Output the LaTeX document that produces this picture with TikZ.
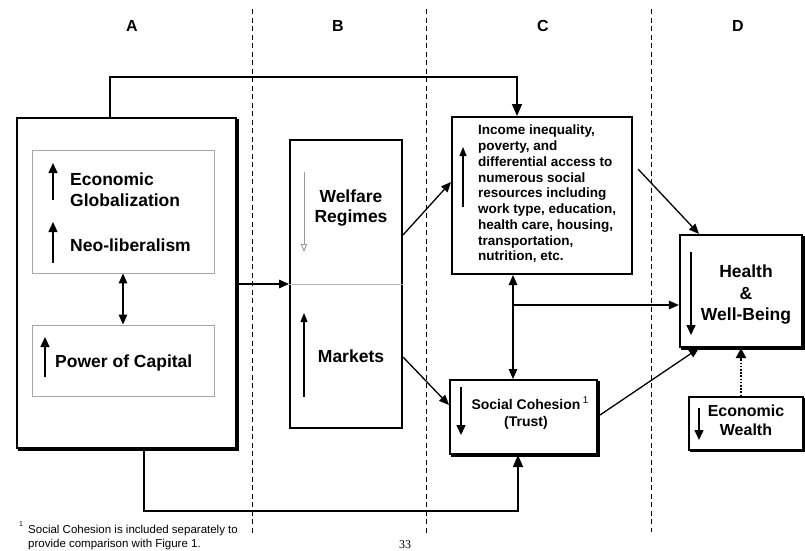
\documentclass[tikz,border=0pt]{standalone}
\usepackage{fontspec}
\setmainfont{Liberation Sans}
\newfontfamily\seriffont{Liberation Serif}
\usetikzlibrary{arrows.meta,calc}
\tikzset{
  box/.style={draw, line width=2pt, inner sep=0pt, rectangle},
  innerbox/.style={draw=gray!70, line width=0.9pt, inner sep=0pt, rectangle},
  conn/.style={line width=1.3pt, -{Triangle[length=10pt,width=8.5pt]}},
  bigconn/.style={line width=1.6pt, -{Triangle[length=12pt,width=10pt]}},
  dbl/.style={line width=1.3pt, {Triangle[length=10pt,width=8.5pt]}-{Triangle[length=10pt,width=8.5pt]}},
  ind/.style={line width=1.4pt, -{Triangle[length=10pt,width=9pt]}},
  thinind/.style={line width=1.1pt, -{Triangle[length=9pt,width=7pt]}},
  sep/.style={line width=0.9pt, dash pattern=on 5pt off 3.5pt},
  shadow/.style={line width=1.8pt, black},
  lbl/.style={font=\fontsize{17.5}{20.5}\selectfont\bfseries, inner sep=0pt},
  hdr/.style={font=\fontsize{16}{18}\selectfont\bfseries, inner sep=0pt},
  smalltxt/.style={font=\fontsize{13.5}{15.75}\selectfont\bfseries, inner sep=0pt},
}
\begin{document}
\begin{tikzpicture}[x=1pt,y=-1pt]
\useasboundingbox (0,0) rectangle (805,550);

% headers
\node[hdr] (hA) at (132,26) {A};
\node[hdr] (hB) at (338,26) {B};
\node[hdr] (hC) at (543,26) {C};
\node[hdr] (hD) at (738,26) {D};

% dashed separators
\draw[sep] (252,9) -- (252,535);
\draw[sep] (426,9) -- (426,533);
\draw[sep] (651,9) -- (651,532);

% boxes
\node[box, minimum width=219pt, minimum height=330pt] (A) at (126.5,283) {};
\node[innerbox, minimum width=182pt, minimum height=123pt] (A1) at (123,211.5) {};
\node[innerbox, minimum width=182pt, minimum height=71pt] (A2) at (123,360.5) {};
\node[box, minimum width=112pt, minimum height=288pt] (B) at (346,284) {};
\node[box, minimum width=180pt, minimum height=157pt] (inc) at (542,195.5) {};
\node[box, minimum width=147pt, minimum height=74pt] (soc) at (523.5,417) {};
\node[box, line width=2.2pt, minimum width=122pt, minimum height=112pt] (health) at (741,291) {};
\node[box, line width=1.5pt, minimum width=114pt, minimum height=53pt] (wealth) at (746,423.5) {};

% scan shadows thickening bottom/right edges
\foreach \b in {A,soc,health,wealth}{
  \draw[shadow] ([xshift=0.8pt,yshift=-2pt]\b.north east) -- ([xshift=0.8pt,yshift=-0.8pt]\b.south east) -- ([xshift=2pt,yshift=-0.8pt]\b.south west);
}

% divider in B
\draw[gray!60, line width=0.8pt] (B.west) -- (B.east);

% texts
\node[lbl, anchor=north west, align=left] (tEG) at (70,173) {Economic\\Globalization};
\node[lbl, anchor=base west] (tNL) at (70,251) {Neo-liberalism};
\node[lbl, anchor=base west] (tPC) at (55,367) {Power of Capital};
\node[lbl, align=center] (tWR) at (351,208) {Welfare\\Regimes};
\node[lbl] (tMK) at (351,356) {Markets};
\node[smalltxt, anchor=north west, align=left] (tInc) at (478,125)
  {Income inequality,\\poverty, and\\differential access to\\numerous social\\resources including\\work type, education,\\health care, housing,\\transportation,\\nutrition, etc.};
\node[font=\fontsize{14}{17}\selectfont\bfseries, inner sep=0pt, align=center] (tSC) at (526,413)
  {Social Cohesion\rlap{\,\textsuperscript{\mdseries 1}}\\(Trust)};
\node[lbl, font=\fontsize{17.5}{21.5}\selectfont\bfseries, align=center] (tHW) at (746,295) {Health\\\&\\Well-Being};
\node[font=\fontsize{16}{19}\selectfont\bfseries, inner sep=0pt, align=center] (tEW) at (746,420.5) {Economic\\Wealth};

% footnote and page number
\node[font=\fontsize{7}{8}\selectfont, inner sep=0pt] (fn1) at (21,524) {1};
\node[font=\fontsize{11.5}{14}\selectfont, inner sep=0pt, anchor=north west, align=left] (fn) at (28,525)
  {Social Cohesion is included separately to\\provide comparison with Figure 1.};
\node[font=\fontsize{12}{12}\selectfont\seriffont, inner sep=0pt] (pg) at (405,545) {33};

% indicator arrows
\draw[ind] (53,200) -- (53,163);
\draw[ind] (53,263) -- (53,222);
\draw[ind] (45,377) -- (45,337);
\draw[gray!80, line width=0.9pt, -{Triangle[length=8pt,width=6.5pt,open]}] (304,172) -- (304,252);
\draw[thinind] (304,397) -- (304,313);
\draw[thinind] (463,207) -- (463,147);
\draw[ind] (691,252) -- (691,335);
\draw[ind] (461,387) -- (461,435);
\draw[ind] (699,408) -- (699,440);

% connectors
\draw[dbl] (A1.south) -- (A2.north);
\draw[bigconn] ([xshift=-16.5pt]A.north) -- ++(0,-40) -| ([xshift=-25pt]inc.north);
\draw[bigconn] ([xshift=17.5pt]A.south) -- ++(0,62) -| ([xshift=-5.5pt]soc.south);
\draw[conn] (A.east |- B.west) -- (B.west);
\draw[conn] ([yshift=49pt]B.east) -- ([yshift=13.5pt]inc.west);
\draw[conn] ([yshift=-73pt]B.east) -- ([yshift=12pt]soc.west);
\draw[conn] ([xshift=5pt,yshift=26.5pt]inc.east) -- ([xshift=-42pt]health.north);
\coordinate (dv) at ([xshift=-29pt]inc.south);
\coordinate (hw) at ([yshift=-14pt]health.west);
\draw[dbl] (dv) -- (dv |- soc.north);
\draw[conn] (dv |- hw) -- (hw);
\draw[conn] ([xshift=2pt,yshift=2pt]soc.east) -- ([xshift=-42pt]health.south);
\draw[line width=2.4pt, dash pattern=on 1.6pt off 1.6pt, -{Triangle[length=10pt,width=10pt]}] (health.south |- wealth.north) -- (health.south);
\end{tikzpicture}
\end{document}
